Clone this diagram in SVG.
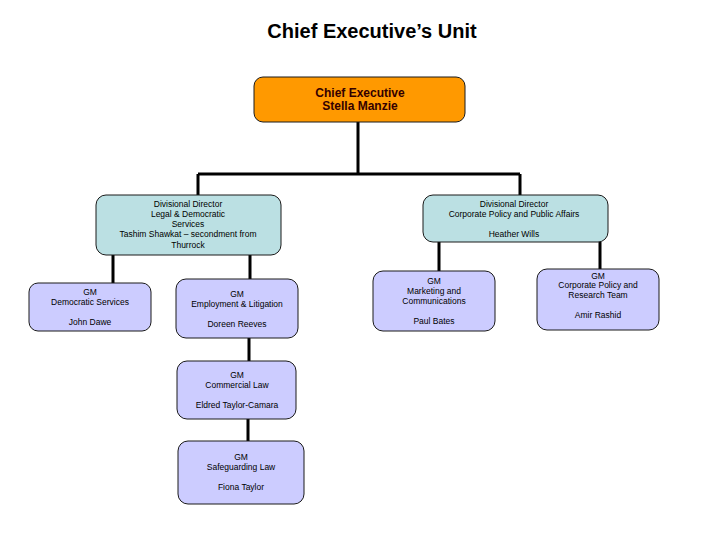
<svg xmlns="http://www.w3.org/2000/svg" width="720" height="540" viewBox="0 0 720 540">
<style>
.box{stroke:#1a1a1a;stroke-width:1}
.ceo{fill:#FF9900}
.div{fill:#BBE0E3}
.gm{fill:#CCCCFF}
.t{font-family:"Liberation Sans",Arial,sans-serif;font-size:8.5px;fill:#000;text-anchor:middle}
.ct{font-family:"Liberation Sans",Arial,sans-serif;font-size:12px;font-weight:bold;fill:#330000;text-anchor:middle}
.title{font-family:"Liberation Sans",Arial,sans-serif;font-size:20px;font-weight:bold;fill:#000;text-anchor:middle}
.c{stroke:#000;stroke-width:3;fill:none}
</style>
<rect width="720" height="540" fill="#fff"/>
<text class="title" x="372" y="38">Chief Executive’s Unit</text>
<g id="connectors">
<path class="c" d="M358,122 V174 M198,174 H520 M198,174 V195 M520,174 V195"/>
<path class="c" d="M113,255 V283 M250,255 V279 M249,338 V361 M248,419 V441"/>
<path class="c" d="M439,242 V271 M600,242 V269"/>
</g>
<g id="ceo">
<rect class="box ceo" x="254" y="77" width="211" height="45" rx="9"/>
<text class="ct" x="360" y="97">Chief Executive</text>
<text class="ct" x="360" y="110">Stella Manzie</text>
</g>
<g id="div-legal">
<rect class="box div" x="96" y="195" width="185" height="60" rx="10"/>
<text class="t" x="188" y="207">Divisional Director</text>
<text class="t" x="188" y="217">Legal &amp; Democratic</text>
<text class="t" x="188" y="227">Services</text>
<text class="t" x="188" y="237">Tashim Shawkat – secondment from</text>
<text class="t" x="188" y="248">Thurrock</text>
</g>
<g id="div-corp">
<rect class="box div" x="423" y="195" width="185" height="47" rx="10"/>
<text class="t" x="514" y="207">Divisional Director</text>
<text class="t" x="514" y="217">Corporate Policy and Public Affairs</text>
<text class="t" x="514" y="237">Heather Wills</text>
</g>
<g id="gm-democratic">
<rect class="box gm" x="29" y="283" width="122" height="48" rx="9"/>
<text class="t" x="90" y="295">GM</text>
<text class="t" x="90" y="305">Democratic Services</text>
<text class="t" x="90" y="325">John Dawe</text>
</g>
<g id="gm-employment">
<rect class="box gm" x="176" y="279" width="122" height="59" rx="10"/>
<text class="t" x="237" y="297">GM</text>
<text class="t" x="237" y="307">Employment &amp; Litigation</text>
<text class="t" x="237" y="327">Doreen Reeves</text>
</g>
<g id="gm-commercial">
<rect class="box gm" x="177" y="361" width="119" height="58" rx="10"/>
<text class="t" x="237" y="378">GM</text>
<text class="t" x="237" y="388">Commercial Law</text>
<text class="t" x="237" y="408">Eldred Taylor-Camara</text>
</g>
<g id="gm-safeguarding">
<rect class="box gm" x="178" y="441" width="126" height="63" rx="10"/>
<text class="t" x="241" y="460">GM</text>
<text class="t" x="241" y="470">Safeguarding Law</text>
<text class="t" x="241" y="490">Fiona Taylor</text>
</g>
<g id="gm-marketing">
<rect class="box gm" x="373" y="271" width="122" height="60" rx="10"/>
<text class="t" x="434" y="284">GM</text>
<text class="t" x="434" y="294">Marketing and</text>
<text class="t" x="434" y="304">Communications</text>
<text class="t" x="434" y="324">Paul Bates</text>
</g>
<g id="gm-corppolicy">
<rect class="box gm" x="537" y="269" width="122" height="61" rx="10"/>
<text class="t" x="598" y="279">GM</text>
<text class="t" x="598" y="288">Corporate Policy and</text>
<text class="t" x="598" y="298">Research Team</text>
<text class="t" x="598" y="318">Amir Rashid</text>
</g>
</svg>
